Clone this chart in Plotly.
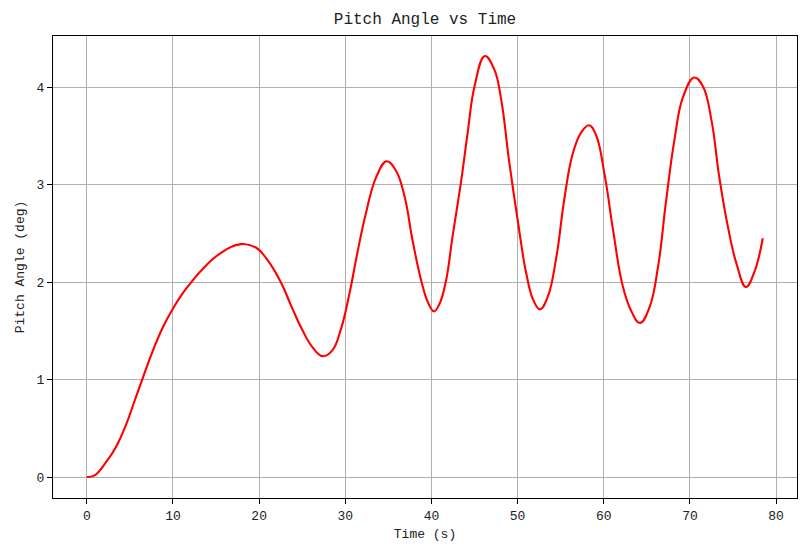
import plotly.graph_objects as go

# 俯仰角随时间变化（从图中读取的数据点）
time_s = [0, 0.9, 2.25, 3.4, 4.57, 5.54, 6.43, 7.68, 8.84, 10, 11.16, 12.13, 13.5,
          15.4, 17.9, 19.7, 20.85, 22.4, 23.9, 25.0, 26.2, 27.36, 28.5, 29.5,
          30.5, 31.4, 32.4, 33.6, 34.8, 35.9, 36.9, 37.8, 38.8, 39.6, 40.3,
          40.95, 41.7, 42.45, 43.4, 44.2, 45.0, 46.2, 47.3, 48.1, 49.0, 50.0,
          51.0, 51.8, 52.6, 53.5, 54.5, 55.4, 56.4, 57.4, 58.3, 59.1, 60.1,
          61.1, 62.2, 63.2, 64.2, 65.3, 66.3, 67.2, 68.2, 69.2, 70.5, 71.5,
          72.5, 73.4, 74.4, 75.4, 76.5, 77.5, 78.45]
pitch_deg = [0, 0.017, 0.154, 0.31, 0.54, 0.78, 1.0, 1.30, 1.54, 1.73, 1.89, 2.0,
             2.14, 2.29, 2.39, 2.35, 2.24, 2.02, 1.72, 1.51, 1.33, 1.24, 1.30,
             1.52, 1.89, 2.3, 2.71, 3.08, 3.24, 3.14, 2.87, 2.43, 2.02, 1.79,
             1.70, 1.78, 2.02, 2.47, 3.01, 3.53, 4.01, 4.32, 4.18, 3.87, 3.25,
             2.64, 2.09, 1.82, 1.72, 1.85, 2.26, 2.84, 3.32, 3.54, 3.61, 3.51,
             3.10, 2.52, 1.96, 1.70, 1.58, 1.74, 2.16, 2.81, 3.46, 3.90, 4.10,
             4.01, 3.66, 3.08, 2.57, 2.19, 1.95, 2.11, 2.45]

FONT = "Liberation Mono"

fig = go.Figure()
fig.add_trace(go.Scatter(
    x=time_s,
    y=pitch_deg,
    mode="lines",
    line=dict(color="red", width=2.1, shape="spline", smoothing=1.2),
    showlegend=False,
))

axis_common = dict(
    showgrid=True,
    gridcolor="#b0b0b0",
    gridwidth=1,
    showline=True,
    linecolor="black",
    linewidth=1.2,
    mirror=True,
    ticks="outside",
    ticklen=5,
    tickcolor="black",
    tickfont=dict(family=FONT, size=13, color="#222"),
    zeroline=False,
    automargin=False,
)

# 页面 body 默认有 8px 外边距，这里的边距已扣除
fig.update_layout(
    width=809,
    height=555,
    margin=dict(l=45, r=20, t=28, b=65),
    paper_bgcolor="white",
    plot_bgcolor="white",
    font=dict(family=FONT, color="#222"),
    title=dict(text="Pitch Angle vs Time", x=0.5, xanchor="center",
               xref="paper", y=0.982, yanchor="middle",
               font=dict(family=FONT, size=16, color="#222")),
    xaxis=dict(axis_common, range=[-3.925, 82.425], tickmode="array",
               tickvals=[0, 10, 20, 30, 40, 50, 60, 70, 80],
               title=dict(text="Time (s)", font=dict(family=FONT, size=13), standoff=6)),
    yaxis=dict(axis_common, range=[-0.2155, 4.5255], tickmode="array",
               tickvals=[0, 1, 2, 3, 4],
               title=dict(text="Pitch Angle (deg)", font=dict(family=FONT, size=13), standoff=8)),
)

fig.write_html("out.html")
